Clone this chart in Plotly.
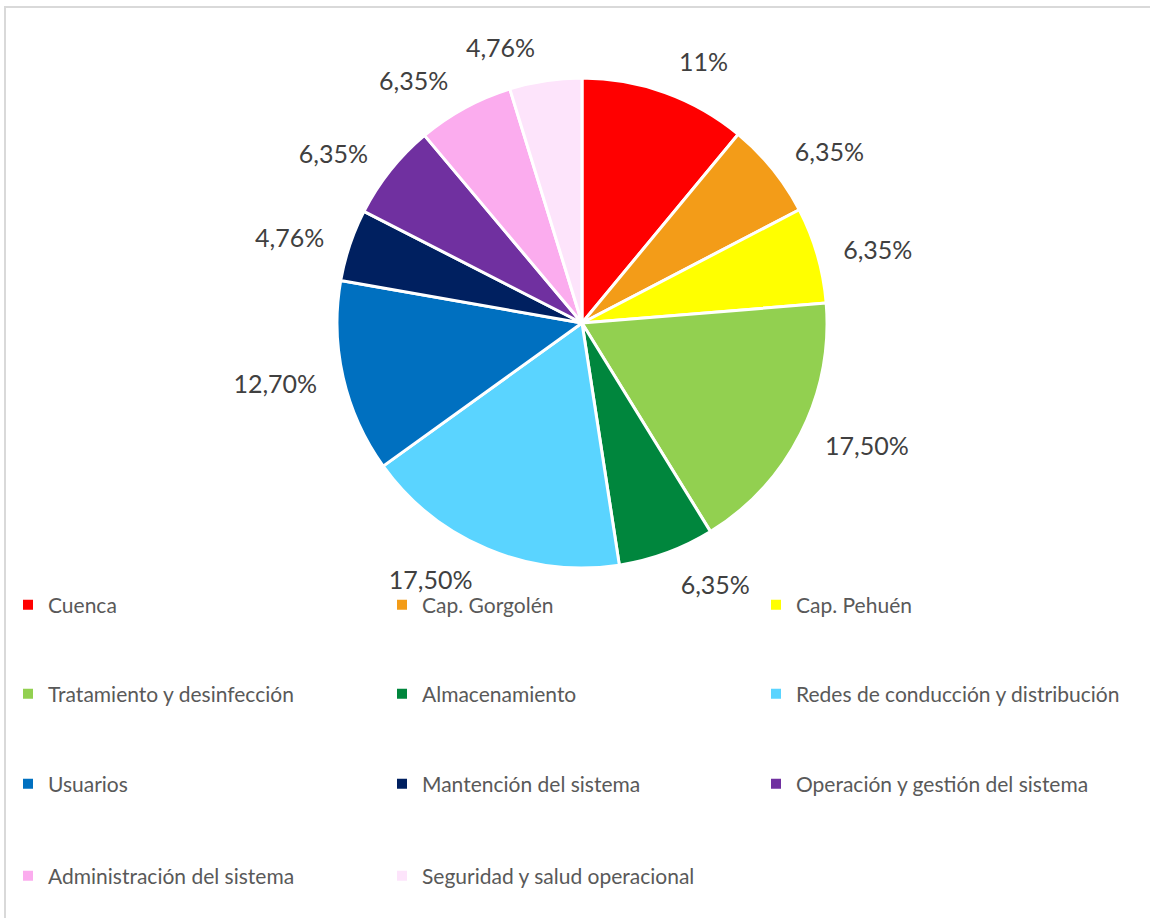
import plotly.graph_objects as go

categories = ["Cuenca", "Cap. Gorgolén", "Cap. Pehuén", "Tratamiento y desinfección",
              "Almacenamiento", "Redes de conducción y distribución", "Usuarios",
              "Mantención del sistema", "Operación y gestión del sistema",
              "Administración del sistema", "Seguridad y salud operacional"]
values = [11, 6.35, 6.35, 17.5, 6.35, 17.5, 12.7, 4.76, 6.35, 6.35, 4.76]
value_labels = ["11%", "6,35%", "6,35%", "17,50%", "6,35%", "17,50%", "12,70%",
                "4,76%", "6,35%", "6,35%", "4,76%"]
colors = ["#FF0000", "#F39C18", "#FFFF00", "#92D050", "#00863D", "#5AD4FF",
          "#0070C0", "#002060", "#7030A0", "#FBACEE", "#FDE4FB"]

W, H = 1150, 918
cx, cy, r = 582, 323, 245
r_lab = 264

def dom(rad):
    return dict(x=[(cx - rad) / W, (cx + rad) / W],
                y=[1 - (cy + rad) / H, 1 - (cy - rad) / H])

fig = go.Figure()
# visible pie
fig.add_trace(go.Pie(
    labels=categories, values=values, sort=False, direction="clockwise",
    marker=dict(colors=colors, line=dict(color="white", width=3)),
    textinfo="none", showlegend=False, domain=dom(r), hoverinfo="label+percent",
))
# label carrier (transparent, slightly larger) for outside labels
fig.add_trace(go.Pie(
    labels=categories, values=values, sort=False, direction="clockwise",
    marker=dict(colors=["rgba(0,0,0,0)"] * len(values), line=dict(width=0)),
    text=value_labels, textinfo="text", textposition="outside",
    outsidetextfont=dict(size=25, color="#404040", family="Lato"),
    showlegend=False, domain=dom(r_lab), hoverinfo="skip",
))

# legend entries in 4 rows of 3
row_y = [605, 694, 784, 876]
legend_names = ["legend", "legend2", "legend3", "legend4"]
for i, (cat, col) in enumerate(zip(categories, colors)):
    fig.add_trace(go.Scatter(
        x=[None], y=[None], mode="markers", name=cat,
        marker=dict(symbol="square", size=10, color=col),
        legend=legend_names[i // 3], showlegend=True,
    ))

layout_legends = {}
for k, ln in enumerate(legend_names):
    layout_legends[ln] = dict(
        orientation="h", x=8 / W, xanchor="left", y=1 - row_y[k] / H, yanchor="middle",
        entrywidth=329, entrywidthmode="pixels", bgcolor="rgba(0,0,0,0)",
        font=dict(size=21, color="#595959", family="Lato"), itemclick=False,
    )

fig.update_layout(
    width=W, height=H, margin=dict(l=0, r=0, t=0, b=0),
    paper_bgcolor="white", plot_bgcolor="white",
    xaxis=dict(visible=False), yaxis=dict(visible=False),
    shapes=[dict(type="rect", xref="paper", yref="paper",
                 x0=5 / W, x1=1.1, y0=-0.1, y1=1 - 7 / H,
                 line=dict(color="#D9D9D9", width=2), fillcolor="rgba(0,0,0,0)",
                 layer="below")],
    **layout_legends,
)

fig.write_html("out.html", config={"displayModeBar": False},
               post_script="document.body.style.margin='0';document.body.style.overflow='hidden';")
